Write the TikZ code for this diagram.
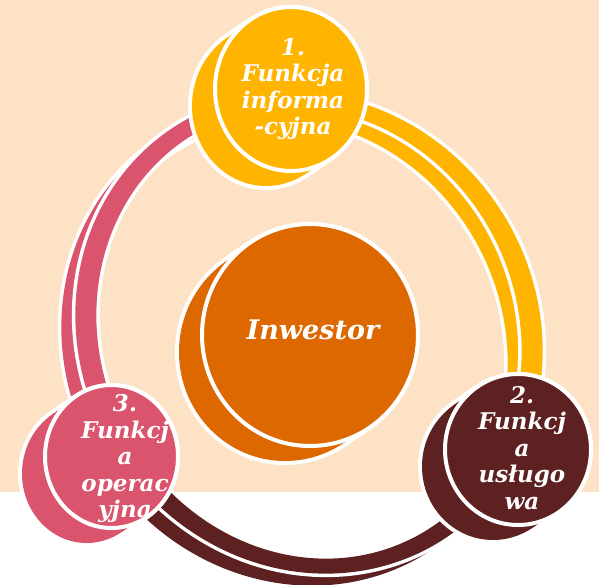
\documentclass[tikz,border=0pt]{standalone}
\usepackage{fontspec}
\setmainfont{DejaVu Serif}
\usetikzlibrary{shapes.geometric}

\definecolor{peach}{HTML}{FEE2C6}
\definecolor{ylw}{HTML}{FFB400}
\definecolor{org}{HTML}{DD6800}
\definecolor{pnk}{HTML}{DA546E}
\definecolor{mrn}{HTML}{5E2121}

% centre line of the tilted elliptic ring and its (scaled) tangent, parameter \t in degrees
\def\rX{(309-119*cos(\t)+188.8*sin(\t))}
\def\rY{(333-206.1*cos(\t)-109*sin(\t))}
\def\rdX{(1.19*sin(\t)+1.888*cos(\t))}
\def\rdY{(2.061*sin(\t)-1.09*cos(\t))}
\def\rL{veclen(\rdX,\rdY)}

% one stretch of the ring as a filled band; #3/#4 = horizontal/vertical half thickness
\newcommand\bandseg[4]{%
  plot[domain=#1:#2, samples=90, variable=\t]
    ({\rX+#3*\rdY/\rL}, {\rY-#4*\rdX/\rL})
  -- plot[domain=#2:#1, samples=90, variable=\t]
    ({\rX-#3*\rdY/\rL}, {\rY+#4*\rdX/\rL}) -- cycle}

% a stretch with its white rim
\newcommand\ringpiece[3]{%
  \fill[white] \bandseg{#1}{#2}{14}{11};
  \fill[#3] \bandseg{#1}{#2}{10.5}{7.5};
}

% a "coin": extruded disc with white rim
% #1 name, #2 colour, #3/#4 centre, #5/#6 radii of the rim line
\newcommand\coin[6]{%
  \foreach \k in {0,...,20}{
    \fill[white] ({#3-25+25*\k/20},{#4+17-17*\k/20}) ellipse [x radius=#5+2, y radius=#6+2];
  }
  \foreach \k in {0,...,20}{
    \fill[#2] ({#3-25+25*\k/20},{#4+17-17*\k/20}) ellipse [x radius=#5-2, y radius=#6-2];
  }
  \node[coinfront, fill=#2, minimum width=2*#5pt, minimum height=2*#6pt] (#1) at (#3,#4) {};
}

\tikzset{
  coinfront/.style={ellipse, draw=white, line width=4pt, inner sep=0pt, outer sep=0pt},
  fntext/.style={text=white, align=center, inner sep=0pt,
    font=\bfseries\itshape\fontsize{23}{26.5}\selectfont},
}

\begin{document}
\begin{tikzpicture}[x=1pt, y=-1pt]
  \useasboundingbox (0,0) rectangle (599,584);
  \clip (0,0) rectangle (599,584);
  \fill[white] (0,0) rectangle (599,584);
  \fill[peach] (0,0) rectangle (599,492);

  % depth side of the ring
  \begin{scope}[shift={(-14,12)}]
    \ringpiece{27.7}{147}{ylw}
    \ringpiece{147}{268}{mrn}
    \ringpiece{268}{387.7}{pnk}
  \end{scope}

  % face of the ring
  \ringpiece{27.7}{147}{ylw}
  \ringpiece{147}{268}{mrn}
  \ringpiece{268}{387.7}{pnk}

  % discs
  \coin{inv}{org}{310}{335}{108}{111}
  \coin{c1}{ylw}{291}{89}{76}{82}
  \coin{c2}{mrn}{518}{449.5}{73}{75.5}
  \coin{c3}{pnk}{111.5}{456.5}{66.5}{71.5}

  % texts
  \node[fntext, font=\bfseries\itshape\fontsize{27}{32}\selectfont] (t0) at (313,330) {Inwestor};
  \node[fntext] (t1) at (293,89) {1.\\Funkcja\\informa\\-cyjna};
  \node[fntext] (t2) at (522,448) {2.\\Funkcj\\a\\usługo\\wa};
  \node[fntext] (t3) at (125,459) {3.\\Funkcj\\a\\operac\\yjna};
\end{tikzpicture}
\end{document}
